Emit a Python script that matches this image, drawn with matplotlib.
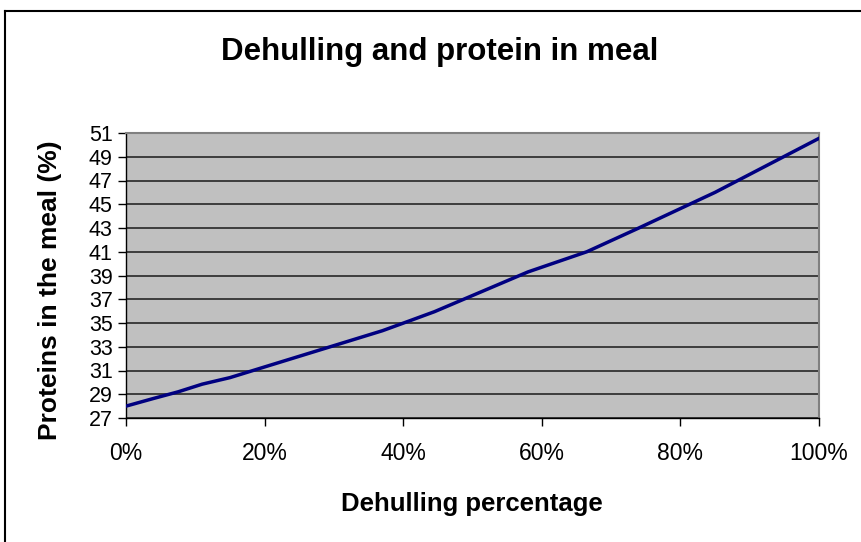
import matplotlib
matplotlib.use("Agg")
import matplotlib.pyplot as plt
from matplotlib.lines import Line2D

# Data
dehulling_pct = [0, 4, 7.5, 11, 15, 20, 37, 41, 44.5, 58, 66.5, 74, 85, 100]
protein_pct = [28.0, 28.65, 29.2, 29.85, 30.4, 31.3, 34.35, 35.2, 35.95, 39.3, 41.0, 43.0, 46.0, 50.55]
x_ticks = [0, 20, 40, 60, 80, 100]
x_tick_labels = ["0%", "20%", "40%", "60%", "80%", "100%"]
y_ticks = list(range(27, 52, 2))

title = "Dehulling and protein in meal"
x_label = "Dehulling percentage"
y_label = "Proteins in the meal (%)"

plt.rcParams['font.family'] = ['Liberation Sans', 'DejaVu Sans']

W, H = 862, 542
fig = plt.figure(figsize=(W / 100, H / 100), dpi=100)
fig.patch.set_facecolor("white")

left, right, top, bottom = 126, 819, 133, 418
ax = fig.add_axes([left / W, 1 - bottom / H, (right - left) / W, (bottom - top) / H])
ax.set_facecolor("#C0C0C0")

ax.set_xlim(0, 100)
ax.set_ylim(27, 51)
ax.set_yticks(y_ticks)
ax.set_xticks(x_ticks)
ax.set_xticklabels(x_tick_labels)

ax.yaxis.grid(True, color="#1a1a1a", linewidth=1.1)
ax.set_axisbelow(True)

ax.plot(dehulling_pct, protein_pct, color="#000080", linewidth=2.5, solid_joinstyle="round", zorder=3)

for s in ["top", "right"]:
    ax.spines[s].set_color("#808080")
    ax.spines[s].set_linewidth(1.5)
for s in ["left", "bottom"]:
    ax.spines[s].set_color("black")
    ax.spines[s].set_linewidth(1.0)

ax.tick_params(axis="y", direction="out", length=6, width=1, pad=3.5, labelsize=15.5, colors="black")
ax.tick_params(axis="x", direction="out", length=5.5, width=1, pad=12, labelsize=16.5, colors="black")

fig.text(440 / W, 1 - 60 / H, title, ha="center", va="baseline", fontsize=22.5, fontweight="bold")
fig.text(472 / W, 1 - 511 / H, x_label, ha="center", va="baseline", fontsize=18.5, fontweight="bold")
fig.text(50 / W, 1 - 290 / H, y_label, ha="center", va="center", rotation=90, fontsize=19, fontweight="bold")

# Chart-area border (top and left visible in reference)
fig.add_artist(Line2D([5 / W, 1.0], [1 - 11 / H, 1 - 11 / H], color="black", linewidth=1.5))
fig.add_artist(Line2D([5 / W, 5 / W], [0.0, 1 - 11 / H], color="black", linewidth=1.5))

fig.savefig("out.png", dpi=100, facecolor="white")
